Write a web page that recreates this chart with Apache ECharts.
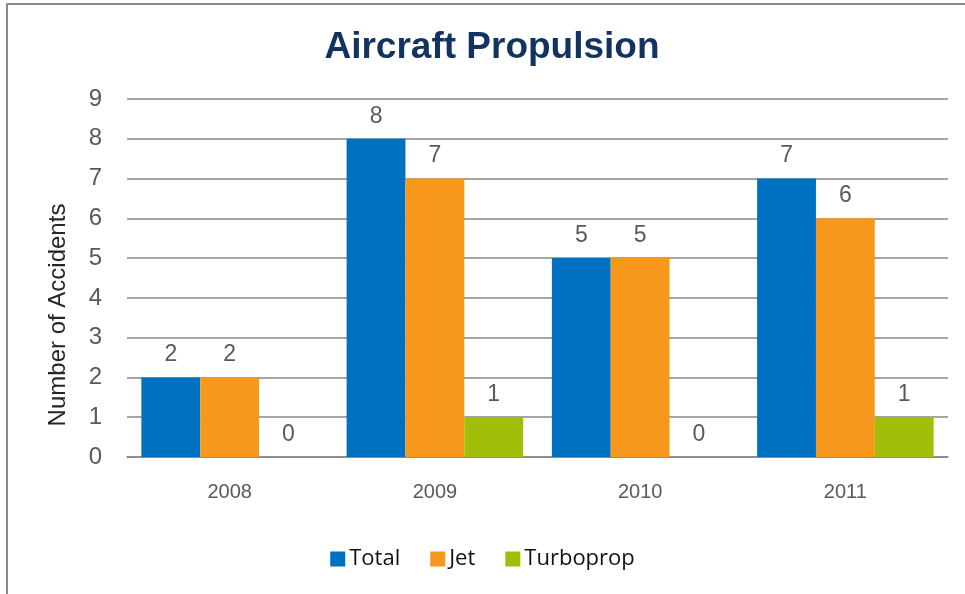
<!DOCTYPE html>
<html>
<head>
    <meta charset="utf-8">
    <title>Aircraft Propulsion</title>
    <script type="text/javascript" src="https://cdn.jsdelivr.net/npm/echarts@6/dist/echarts.min.js"></script>
    <style>
        html, body { margin: 0; padding: 0; background: #fff; }
    </style>
</head>
<body>
<div id="main" style="width: 965px;height:594px;"></div>
<script type="text/javascript">
    var years = ['2008', '2009', '2010', '2011'];
    var total = [2, 8, 5, 7];
    var jet = [2, 7, 5, 6];
    var turboprop = [0, 1, 0, 1];

    var myChart = echarts.init(document.getElementById('main'));

    var labelStyle = {
        show: true,
        position: 'top',
        distance: 11,
        color: '#595959',
        fontFamily: 'Liberation Sans, Arial, sans-serif',
        fontSize: 23
    };

    var option = {
        backgroundColor: '#fff',
        animation: false,
        graphic: [{
            type: 'rect',
            shape: { x: 7, y: 4, width: 1000, height: 700 },
            style: { fill: 'none', stroke: '#8c8c8c', lineWidth: 2 },
            silent: true
        }],
        title: {
            text: 'Aircraft Propulsion',
            left: 487,
            textAlign: 'center',
            top: 24,
            textStyle: {
                color: '#12335f',
                fontFamily: 'Liberation Sans, Arial, sans-serif',
                fontWeight: 'bold',
                fontSize: 37
            }
        },
        legend: {
            data: ['Total', 'Jet', 'Turboprop'],
            bottom: 19,
            left: 'center',
            icon: 'rect',
            itemWidth: 15,
            itemHeight: 15,
            itemGap: 30,
            textStyle: {
                color: '#111',
                fontFamily: 'Open Sans, sans-serif',
                fontSize: 22,
                padding: [0, 0, 0, -1]
            }
        },
        grid: {
            left: 127,
            right: 17,
            top: 99,
            bottom: 137
        },
        xAxis: {
            type: 'category',
            data: years,
            axisLine: { lineStyle: { color: '#878787', width: 1.5 } },
            axisTick: { show: false },
            axisLabel: {
                margin: 25,
                color: '#595959',
                fontFamily: 'Liberation Sans, Arial, sans-serif',
                fontSize: 20
            }
        },
        yAxis: {
            type: 'value',
            min: 0,
            max: 9,
            interval: 1,
            name: 'Number of Accidents',
            nameLocation: 'middle',
            nameGap: 57,
            nameTextStyle: {
                color: '#262626',
                fontFamily: 'Liberation Sans, Arial, sans-serif',
                fontSize: 24,
                padding: [0, 74, 0, 0]
            },
            axisLine: { show: false },
            axisTick: { show: false },
            axisLabel: {
                margin: 25,
                color: '#595959',
                fontFamily: 'Liberation Sans, Arial, sans-serif',
                fontSize: 24
            },
            splitLine: { lineStyle: { color: '#878787', width: 1.5 } }
        },
        series: [{
            name: 'Total',
            type: 'bar',
            data: total,
            barGap: 0,
            barCategoryGap: '14%',
            itemStyle: { color: '#0070c0' },
            label: labelStyle
        }, {
            name: 'Jet',
            type: 'bar',
            data: jet,
            barGap: 0,
            barCategoryGap: '14%',
            itemStyle: { color: '#f7981d' },
            label: labelStyle
        }, {
            name: 'Turboprop',
            type: 'bar',
            data: turboprop,
            barGap: 0,
            barCategoryGap: '14%',
            itemStyle: { color: '#a2bd08' },
            label: labelStyle
        }]
    };

    myChart.setOption(option);
</script>
</body>
</html>
